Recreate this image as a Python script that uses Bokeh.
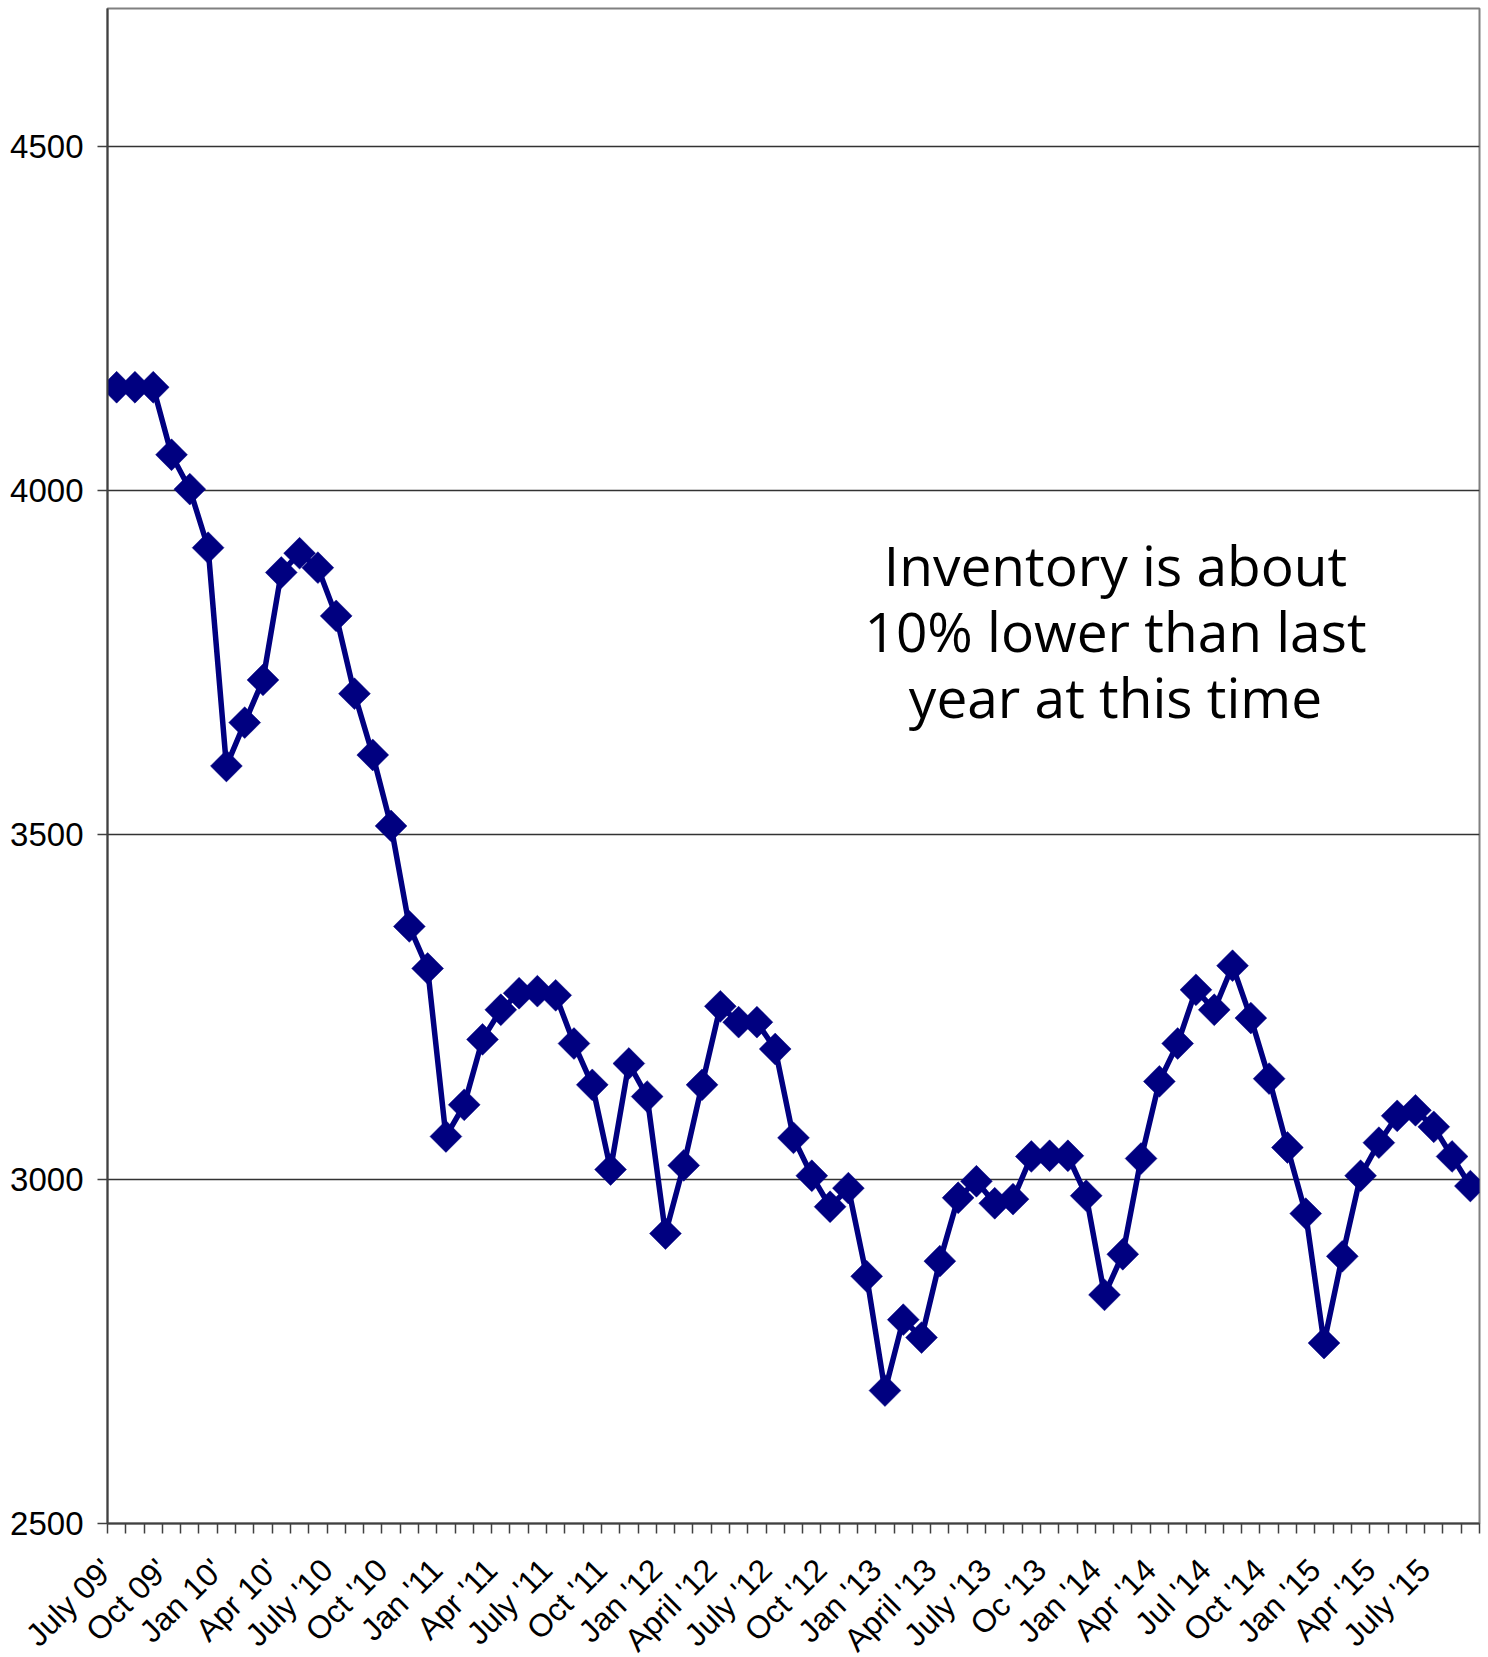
import math
from bokeh.plotting import figure
from bokeh.models import Range1d, FixedTicker, Label, CustomJSTickFormatter
from bokeh.embed import file_html
from bokeh.resources import INLINE

# monthly inventory, July 2009 .. September 2015
months = [
    "Jul 09", "Aug 09", "Sep 09", "Oct 09", "Nov 09", "Dec 09",
    "Jan 10", "Feb 10", "Mar 10", "Apr 10", "May 10", "Jun 10",
    "Jul 10", "Aug 10", "Sep 10", "Oct 10", "Nov 10", "Dec 10",
    "Jan 11", "Feb 11", "Mar 11", "Apr 11", "May 11", "Jun 11",
    "Jul 11", "Aug 11", "Sep 11", "Oct 11", "Nov 11", "Dec 11",
    "Jan 12", "Feb 12", "Mar 12", "Apr 12", "May 12", "Jun 12",
    "Jul 12", "Aug 12", "Sep 12", "Oct 12", "Nov 12", "Dec 12",
    "Jan 13", "Feb 13", "Mar 13", "Apr 13", "May 13", "Jun 13",
    "Jul 13", "Aug 13", "Sep 13", "Oct 13", "Nov 13", "Dec 13",
    "Jan 14", "Feb 14", "Mar 14", "Apr 14", "May 14", "Jun 14",
    "Jul 14", "Aug 14", "Sep 14", "Oct 14", "Nov 14", "Dec 14",
    "Jan 15", "Feb 15", "Mar 15", "Apr 15", "May 15", "Jun 15",
    "Jul 15", "Aug 15", "Sep 15",
]

inventory = [
    4150, 4150, 4150, 4052, 4002, 3917,
    3600, 3663, 3725, 3881, 3909, 3888,
    3818, 3705, 3616, 3513, 3367, 3306,
    3062, 3108, 3203, 3246, 3270, 3273,
    3267, 3197, 3137, 3014, 3168, 3120,
    2921, 3020, 3137, 3251, 3228, 3228,
    3189, 3060, 3005, 2960, 2987, 2859,
    2693, 2796, 2770, 2881, 2973, 2997,
    2965, 2971, 3033, 3034, 3034, 2976,
    2832, 2891, 3030, 3142, 3197, 3275,
    3246, 3310, 3234, 3146, 3046, 2950,
    2762, 2888, 3005, 3053, 3092, 3100,
    3076, 3033, 2990,
]

tick_labels = [
    "July 09'", "Oct 09'", "Jan 10'", "Apr 10'", "July '10", "Oct '10",
    "Jan '11", "Apr '11", "July '11", "Oct '11", "Jan '12", "April '12",
    "July '12", "Oct '12", "Jan '13", "April '13", "July '13", "Oc '13",
    "Jan '14", "Apr '14", "Jul '14", "Oct '14", "Jan '15", "Apr '15",
    "July '15",
]

y_ticks = [2500, 3000, 3500, 4000, 4500]

annotation = "Inventory is about\n10% lower than last\nyear at this time"

n = len(months)
x = [i + 0.5 for i in range(n)]  # category centres; boundaries at integers

p = figure(
    frame_width=1372, frame_height=1515,
    x_range=Range1d(0, n), y_range=Range1d(2500, 4700),
    output_backend="svg", toolbar_location=None,
    min_border_left=107, min_border_top=8, min_border_right=2,
    background_fill_color="white", border_fill_color="white",
)

p.outline_line_color = "#808080"
p.outline_line_width = 2

# x axis: tick at every category boundary, label every third category
p.xaxis.ticker = FixedTicker(ticks=list(range(n + 1)))
p.xaxis.formatter = CustomJSTickFormatter(args=dict(labels=tick_labels), code="""
const i = Math.round(tick);
if (i % 3 === 0 && i / 3 < labels.length) { return labels[i / 3]; }
return "";
""")
p.xaxis.major_label_orientation = math.pi / 4
p.xaxis.major_label_text_font = "Liberation Sans"
p.xaxis.major_label_text_font_size = "32px"
p.xaxis.major_label_text_color = "black"
p.xaxis.major_label_standoff = 31
p.xaxis.major_tick_in = 0
p.xaxis.major_tick_out = 10
p.xaxis.major_tick_line_color = "#404040"
p.xaxis.major_tick_line_width = 1.5
p.xaxis.minor_tick_line_color = None
p.xaxis.axis_line_color = "#404040"
p.xaxis.axis_line_width = 2

p.yaxis.ticker = FixedTicker(ticks=y_ticks)
p.yaxis.major_label_text_font = "Liberation Sans"
p.yaxis.major_label_text_font_size = "33px"
p.yaxis.major_label_text_color = "black"
p.yaxis.major_label_standoff = 14
p.yaxis.major_tick_in = 0
p.yaxis.major_tick_out = 10
p.yaxis.major_tick_line_color = "#404040"
p.yaxis.major_tick_line_width = 1.5
p.yaxis.minor_tick_line_color = None
p.yaxis.axis_line_color = "#404040"
p.yaxis.axis_line_width = 2

p.xgrid.grid_line_color = None
p.ygrid.ticker = FixedTicker(ticks=y_ticks)
p.ygrid.grid_line_color = "#333333"
p.ygrid.grid_line_width = 1.3

p.line(x, inventory, line_color="#000080", line_width=5.5)
p.scatter(x, inventory, marker="square", angle=math.pi / 4, size=22.5,
          fill_color="#000080", line_color="#000080", line_width=0.5)

p.add_layout(Label(
    x=55.1, y=3797, text=annotation,
    text_align="center", text_baseline="middle",
    text_font="Open Sans", text_font_size="55px", text_color="black",
    text_line_height=0.88,
))

open("out.html", "w").write(file_html(p, INLINE))
